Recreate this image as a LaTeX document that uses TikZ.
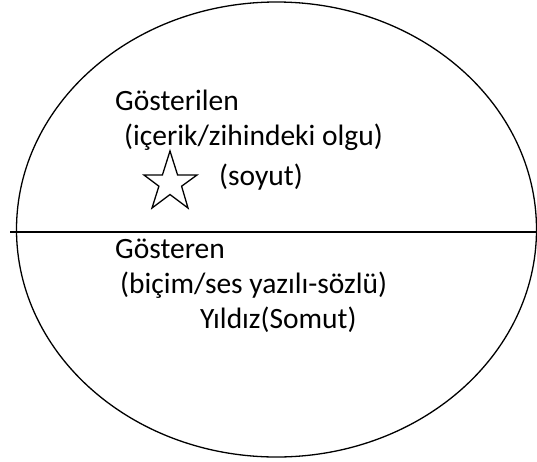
\documentclass[tikz,border=0pt]{standalone}
\usepackage{fontspec}
\setmainfont{Carlito}
\begin{document}
\begin{tikzpicture}[x=1pt,y=-1pt,
  lbl/.style={anchor=base west,inner sep=0pt,font=\fontsize{29.5}{36}\selectfont},
  outline/.style={draw=black,line width=1.3pt}]
\useasboundingbox (0,0) rectangle (537,461);
\draw[outline] (276.5,229.5) ellipse [x radius=260pt, y radius=227.5pt];
\coordinate (lineL) at (10,232);
\coordinate (lineR) at (537,232);
\draw[line width=2pt] (lineL) -- (lineR);
\draw[outline,line join=miter] (170,151) -- (177.6,175) -- (197,175) -- (181.6,186.2) -- (188,208)
  -- (170,194.5) -- (152,208) -- (158.9,186.2) -- (144,175) -- (162.4,175) -- cycle;
\node[lbl] (gl) at (115,110) {Gösterilen};
\node[lbl] (ic) at (124,145) {(içerik/zihindeki olgu)};
\node[lbl] (so) at (219,185) {(soyut)};
\node[lbl] (gr) at (115,258) {Gösteren};
\node[lbl] (bi) at (120,293) {(biçim/ses yazılı-sözlü)};
\node[lbl] (yi) at (200,328) {Yıldız(Somut)};
\end{tikzpicture}
\end{document}
